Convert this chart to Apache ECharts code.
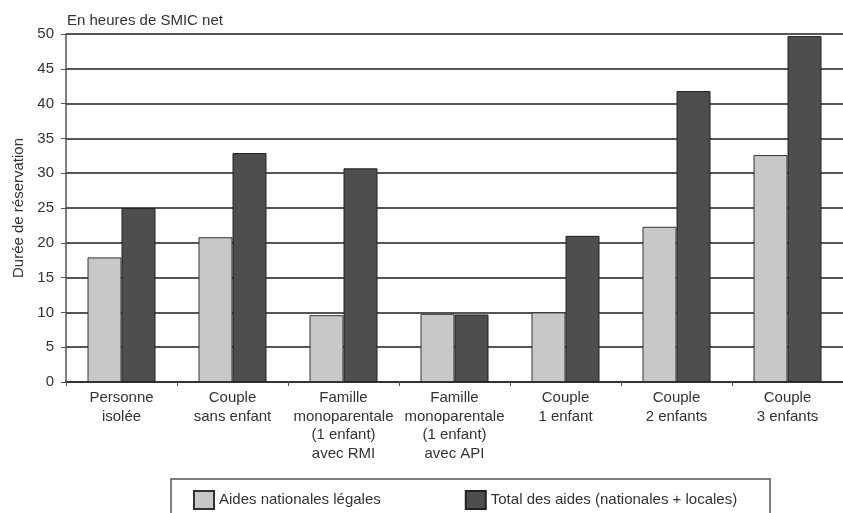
<!DOCTYPE html>
<html>
<head>
<meta charset="utf-8">
<script src="https://cdn.jsdelivr.net/npm/echarts@6/dist/echarts.min.js"></script>
<style>
  html, body { margin: 0; padding: 0; background: #fff; }
  #chart { width: 843px; height: 513px; }
</style>
</head>
<body>
<div id="chart"></div>
<script>
// Household types
const categories = [
  'Personne\nisolée',
  'Couple\nsans enfant',
  'Famille\nmonoparentale\n(1 enfant)\navec RMI',
  'Famille\nmonoparentale\n(1 enfant)\navec API',
  'Couple\n1 enfant',
  'Couple\n2 enfants',
  'Couple\n3 enfants'
];
// Hours of net SMIC
const aidesNationales = [17.9, 20.8, 9.6, 9.8, 10, 22.3, 32.6];
const totalAides = [25, 32.9, 30.7, 9.7, 21, 41.8, 49.7];
const seriesNames = ['Aides nationales légales', 'Total des aides (nationales + locales)'];

const FONT = '"Liberation Sans", Arial, sans-serif';
const FS = 15;
const chart = echarts.init(document.getElementById('chart'));

chart.setOption({
  animation: false,
  textStyle: { fontFamily: FONT, color: '#333' },
  title: {
    text: 'En heures de SMIC net',
    left: 62, top: 11,
    padding: [2, 5],
    textStyle: { fontFamily: FONT, fontSize: FS, fontWeight: 'normal', color: '#333' }
  },
  graphic: [{
    type: 'rect',
    shape: { x: 171, y: 479, width: 599, height: 40 },
    style: { fill: '#fff', stroke: '#555', lineWidth: 1.5 },
    z: 0
  }],
  legend: {
    data: seriesNames,
    icon: 'rect',
    left: 188, top: 485,
    itemWidth: 20, itemHeight: 18,
    itemGap: 84,
    textStyle: { fontFamily: FONT, fontSize: FS, color: '#333' },
    z: 5
  },
  grid: { left: 66, top: 34, width: 783, bottom: 131, containLabel: false },
  xAxis: {
    type: 'category',
    data: categories,
    axisLine: { lineStyle: { color: '#333', width: 2 } },
    axisTick: { show: true, length: 4, lineStyle: { color: '#555' } },
    axisLabel: { fontFamily: FONT, fontSize: FS, color: '#333', lineHeight: 18.5, margin: 7, interval: 0 }
  },
  yAxis: {
    type: 'value',
    min: 0, max: 50, interval: 5,
    name: 'Durée de réservation',
    nameLocation: 'middle',
    nameGap: 39,
    nameRotate: 90,
    nameTextStyle: { fontFamily: FONT, fontSize: FS, color: '#333' },
    axisLine: { show: true, lineStyle: { color: '#555', width: 1.5 } },
    axisTick: { show: true, length: 5, lineStyle: { color: '#555' } },
    axisLabel: { fontFamily: FONT, fontSize: FS, color: '#333', margin: 12 },
    splitLine: { lineStyle: { color: '#555', width: 2 } }
  },
  series: [
    {
      name: seriesNames[0],
      type: 'bar',
      data: aidesNationales,
      barWidth: 34,
      barGap: '0%',
      itemStyle: { color: '#c8c8c8', borderColor: '#333', borderWidth: 1 }
    },
    {
      name: seriesNames[1],
      type: 'bar',
      data: totalAides,
      barWidth: 34,
      barGap: '0%',
      itemStyle: { color: '#4e4e4e', borderColor: '#222', borderWidth: 1 }
    }
  ]
});
</script>
</body>
</html>
